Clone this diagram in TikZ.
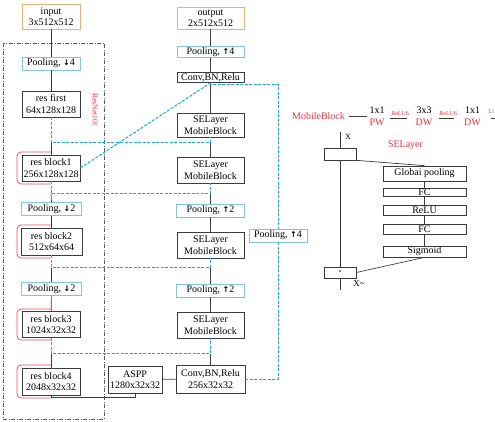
\documentclass[tikz,border=0pt]{standalone}
\usepackage{fontspec}
\setmainfont{Liberation Serif}
\newfontfamily\arrowfont{DejaVu Sans}
\newcommand{\dnarr}{{\arrowfont\bfseries\fontsize{8}{9}\selectfont ↓}}
\newcommand{\uparr}{{\arrowfont\bfseries\fontsize{8}{9}\selectfont ↑}}
\definecolor{boxc}{RGB}{60,60,60}
\definecolor{orng}{RGB}{240,175,120}
\definecolor{lblue}{RGB}{130,195,225}
\definecolor{skipc}{RGB}{30,165,235}
\definecolor{redc}{RGB}{230,50,60}
\definecolor{brk}{RGB}{228,80,90}
\begin{document}
\begin{tikzpicture}[x=1pt,y=-1pt,
  box/.style={draw=boxc, fill=white, line width=0.7pt, inner sep=0pt, align=center, font=\fontsize{10}{11.5}\selectfont},
  iobox/.style={box, draw=orng},
  poolbox/.style={box, draw=lblue},
  spine/.style={draw=boxc, line width=0.7pt},
  skip/.style={draw=skipc, dash pattern=on 3pt off 1.5pt, line width=1pt},
  bracket/.style={draw=brk, line width=0.8pt, rounded corners=4pt},
  resframe/.style={draw=gray!70!black, dash pattern=on 4pt off 1.5pt on 1pt off 1.5pt, line width=0.6pt},
  lbl/.style={font=\fontsize{10}{11.5}\selectfont, inner sep=1pt, align=center},
  tinyred/.style={font=\fontsize{6}{7}\selectfont, text=redc, inner sep=0.5pt}]
\useasboundingbox (0,0) rectangle (495,421);

% ResNet101 frame
\draw[resframe] (3,43) rectangle (104,419);
\node[font=\fontsize{7.5}{8}\selectfont, text=redc, rotate=-90] (rn) at (95,110) {ResNet101};

% red brackets
\draw[bracket] (51,152) -- (17,152) -- (17,184) -- (51,184);
\draw[bracket] (51,225) -- (17,225) -- (17,258) -- (51,258);
\draw[bracket] (51,309) -- (17,309) -- (17,340) -- (51,340);
\draw[bracket] (51,365) -- (17,365) -- (17,398) -- (51,398);

% encoder
\node[iobox, minimum width=58, minimum height=25] (in) at (51,16.5) {input\\3x512x512};
\node[poolbox, minimum width=58, minimum height=13] (pd4) at (51,63.5) {Pooling, \dnarr4};
\node[box, minimum width=58, minimum height=26] (rf) at (51,104) {res first\\64x128x128};
\node[box, minimum width=58, minimum height=26] (r1) at (51,168) {res block1\\256x128x128};
\node[poolbox, minimum width=60, minimum height=13] (pd2a) at (51.5,209) {Pooling, \dnarr2};
\node[box, minimum width=61, minimum height=27] (r2) at (51.5,241.5) {res block2\\512x64x64};
\node[poolbox, minimum width=60, minimum height=13] (pd2b) at (51.5,289) {Pooling, \dnarr2};
\node[box, minimum width=58, minimum height=26] (r3) at (51,324.5) {res block3\\1024x32x32};
\node[box, minimum width=58, minimum height=27] (r4) at (51,381.5) {res block4\\2048x32x32};
\node[box, minimum width=54, minimum height=27] (aspp) at (135,379.5) {ASPP\\1280x32x32};

% decoder
\node[iobox, minimum width=67, minimum height=22] (out) at (210.5,18) {output\\2x512x512};
\node[poolbox, minimum width=67, minimum height=11] (pu4) at (210.5,52) {Pooling, \uparr4};
\node[box, minimum width=67, minimum height=10] (c1) at (210.5,77.5) {Conv,BN,Relu};
\node[box, minimum width=67, minimum height=24] (se1) at (210.5,125) {SELayer\\MobileBlock};
\node[box, minimum width=67, minimum height=26] (se2) at (210.5,170) {SELayer\\MobileBlock};
\node[poolbox, minimum width=68, minimum height=13] (pu2a) at (210.5,210.5) {Pooling, \uparr2};
\node[box, minimum width=67, minimum height=26] (se3) at (210.5,245) {SELayer\\MobileBlock};
\node[poolbox, minimum width=68, minimum height=13] (pu2b) at (210.5,290.5) {Pooling, \uparr2};
\node[box, minimum width=67, minimum height=26] (se4) at (210.5,325) {SELayer\\MobileBlock};
\node[box, minimum width=69, minimum height=28] (c2) at (210.5,379) {Conv,BN,Relu\\256x32x32};
\node[poolbox, minimum width=58, minimum height=13] (pu4r) at (278,235.5) {Pooling, \uparr4};

% junction coordinates
\coordinate (j1a) at (51,142.5);   \coordinate (j1b) at (210.5,142.5);
\coordinate (j2a) at (51,193.5);   \coordinate (j2b) at (210.5,193.5);
\coordinate (j3a) at (51.5,267.5); \coordinate (j3b) at (210.5,267.5);
\coordinate (j4a) at (51,353.5);   \coordinate (j4b) at (210.5,353.5);
\coordinate (ra) at (51,397);
\coordinate (lp) at (278,84.5);

% encoder spine
\draw[spine] (in) -- (pd4);
\draw[spine] (pd4) -- (rf);
\draw[spine] (j1a) -- (r1.north);
\draw[spine] (j2a) -- (pd2a.north);
\draw[spine] (pd2a) -- (r2);
\draw[spine] (j3a) -- (pd2b.north);
\draw[spine] (pd2b) -- (r3);
\draw[spine] (j4a) -- (r4.north);
\draw[spine] (r4.south) -- (ra) -| (aspp.south);
\draw[spine] (aspp) -- (c2);

% decoder spine
\draw[spine] (c2.north) -- (j4b);
\draw[spine] (se4) -- (pu2b);
\draw[spine] (pu2b.north) -- (j3b);
\draw[spine] (se3) -- (pu2a);
\draw[spine] (pu2a.north) -- (j2b);
\draw[spine] (se2.north) -- (j1b);
\draw[spine] (se1) -- (c1);
\draw[spine] (c1) -- (pu4);
\draw[spine] (pu4) -- (out);

% skip connections
\draw[skip] (rf.south) -- (j1a) -- (j1b) -- (se1.south);
\draw[skip] (r1.south) -- (j2a) -- (j2b) -- (se2.south);
\draw[skip] (r2.south) -- (j3a) -- (j3b) -- (se3.south);
\draw[skip] (r3.south) -- (j4a) -- (j4b) -- (se4.south);
\draw[skip] (r1.east) -- (c1.south);
\draw[skip] (c1.south) |- (lp) -- (pu4r.north);
\draw[skip] (pu4r.south) |- (c2.east);

% MobileBlock legend
\coordinate (ly) at (0,118);
\coordinate (lr) at (497,118);
\node[lbl, text=redc] (mb) at (318.5,116.5) {MobileBlock};
\node[lbl] (k1) at (377,116.5) {1x1\\\textcolor{redc}{PW}};
\node[lbl] (k2) at (424,116.5) {3x3\\\textcolor{redc}{DW}};
\node[lbl] (k3) at (472.5,116.5) {1x1\\\textcolor{redc}{DW}};
\draw[spine, shorten <=3pt, shorten >=1pt] (mb) -- (k1);
\draw[spine, shorten <=4.5pt, shorten >=7.5pt] (k1.east |- ly) -- (k2.west |- ly) node[midway, above=1.5pt, tinyred] {ReLU6};
\draw[spine, shorten <=5.5pt, shorten >=8.5pt] (k2.east |- ly) -- (k3.west |- ly) node[midway, above=1.5pt, tinyred] {ReLU6};
\draw[spine, shorten <=9pt] (k3.east |- ly) -- (lr);
\node[tinyred, anchor=west] (li) at (488,112) {Li};

% SELayer detail
\coordinate (xin) at (340,132);
\coordinate (xout) at (340,290);
\node[box, minimum width=32, minimum height=12] (xt) at (340,154) {};
\node[font=\fontsize{8}{9}\selectfont, inner sep=0pt] (xl) at (348,137) {X};
\node[lbl, text=redc] (sel) at (405.5,145) {SELayer};
\node[box, minimum width=83, minimum height=15] (glob) at (424.5,173.5) {Globai pooling};
\node[box, minimum width=83, minimum height=8] (fc1) at (424.5,192) {FC};
\node[box, minimum width=83, minimum height=10] (relu) at (424.5,210) {ReLU};
\node[box, minimum width=83, minimum height=10] (fc2) at (424.5,229) {FC};
\node[box, minimum width=83, minimum height=11] (sig) at (424.5,251.5) {Sigmoid};
\node[box, minimum width=32, minimum height=11, font=\fontsize{6}{7}\selectfont] (xb) at (340,272.5) {*};
\node[font=\fontsize{9}{10}\selectfont, inner sep=0pt] (xtl) at (359,284) {X\textasciitilde};
\draw[spine] (xin) -- (xt);
\draw[spine] (xt) -- (xb);
\draw[spine] (xb) -- (xout);
\draw[spine] (xt.south east) -- (glob.north);
\draw[spine] (glob) -- (fc1);
\draw[spine] (fc1) -- (relu);
\draw[spine] (relu) -- (fc2);
\draw[spine] (fc2) -- (sig);
\draw[spine] (sig.south) -- (xb.east);
\end{tikzpicture}
\end{document}
